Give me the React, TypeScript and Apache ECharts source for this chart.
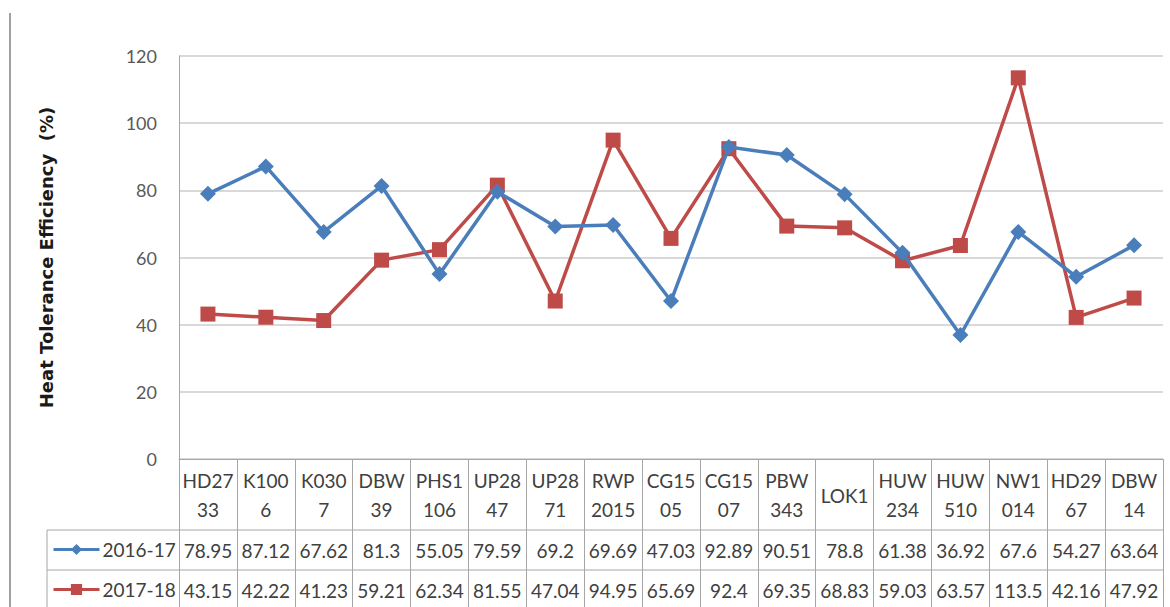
import React, { useEffect, useRef } from "react";
import * as echarts from "echarts";

const categories = [
  "HD27\n33", "K100\n6", "K030\n7", "DBW\n39", "PHS1\n106", "UP28\n47", "UP28\n71",
  "RWP\n2015", "CG15\n05", "CG15\n07", "PBW\n343", "LOK1", "HUW\n234", "HUW\n510",
  "NW1\n014", "HD29\n67", "DBW\n14",
];
const series2016 = [78.95, 87.12, 67.62, 81.3, 55.05, 79.59, 69.2, 69.69, 47.03, 92.89, 90.51, 78.8, 61.38, 36.92, 67.6, 54.27, 63.64];
const series2017 = [43.15, 42.22, 41.23, 59.21, 62.34, 81.55, 47.04, 94.95, 65.69, 92.4, 69.35, 68.83, 59.03, 63.57, 113.5, 42.16, 47.92];
const seriesNames = ["2016-17", "2017-18"];
const yTicks = { min: 0, max: 120, interval: 20 };
const yTitle = "Heat Tolerance Efficiency  (%)";

const BLUE = "#4A7EBB";
const RED = "#BE4B48";
const BORDER = "#A6A6A6";
const TXT = "#404040";
const FONT = "Lato";

export default function App() {
  const ref = useRef<HTMLDivElement>(null);
  useEffect(() => {
    if (!ref.current) return;
    const chart = echarts.init(ref.current, undefined, { renderer: "svg" });
    const rowY = [550, 590];
    const legendBase = {
      left: 52,
      itemWidth: 46,
      itemHeight: 14,
      selectedMode: false,
      padding: 0,
      lineStyle: { width: 3 },
      textStyle: { fontFamily: FONT, fontSize: 19, color: TXT, padding: [0, 0, 0, -2] },
    };
    const option: any = {
      animation: false,
      backgroundColor: "#ffffff",
      grid: { left: 179, right: 7, top: 56, bottom: 148, containLabel: false },
      legend: seriesNames.map((n, i) => ({ ...legendBase, top: rowY[i] - 10, data: [n] })),
      xAxis: {
        type: "category",
        data: categories,
        boundaryGap: true,
        axisLine: { show: true, lineStyle: { color: BORDER, width: 1 } },
        axisTick: { show: true, length: 148, lineStyle: { color: BORDER, width: 1 } },
        axisLabel: {
          interval: 0,
          margin: 36,
          verticalAlign: "middle",
          fontFamily: FONT,
          fontSize: 19,
          lineHeight: 29,
          color: TXT,
        },
        splitLine: { show: false },
      },
      yAxis: {
        type: "value",
        min: yTicks.min,
        max: yTicks.max,
        interval: yTicks.interval,
        name: yTitle,
        nameLocation: "middle",
        nameGap: 124,
        nameRotate: 90,
        nameTextStyle: { fontFamily: "DejaVu Sans", fontWeight: "bold", fontSize: 18, color: "#1a1a1a" },
        axisLine: { show: true, lineStyle: { color: BORDER, width: 1 } },
        axisTick: { show: false },
        axisLabel: { margin: 22, fontFamily: FONT, fontSize: 18, color: "#595959" },
        splitLine: { show: true, lineStyle: { color: "#D9D9D9", width: 2 } },
      },
      series: [
        {
          name: seriesNames[0],
          type: "line",
          data: series2016,
          symbol: "diamond",
          symbolSize: 16,
          itemStyle: { color: BLUE },
          lineStyle: { color: BLUE, width: 3.5 },
          z: 3,
        },
        {
          name: seriesNames[1],
          type: "line",
          data: series2017,
          symbol: "rect",
          symbolSize: 15,
          itemStyle: { color: RED },
          lineStyle: { color: RED, width: 3.5 },
          z: 2,
        },
      ],
    };
    chart.setOption(option);

    const rows = [series2016, series2017];
    const graphics: any[] = [];
    rows.forEach((vals, r) => {
      vals.forEach((v, i) => {
        const x = chart.convertToPixel({ xAxisIndex: 0 }, i) as number;
        graphics.push({
          type: "text",
          x,
          y: rowY[r],
          style: {
            text: String(v),
            fontFamily: FONT,
            fontSize: 19,
            fill: TXT,
            align: "center",
            verticalAlign: "middle",
          },
        });
      });
    });
    const x0 = chart.convertToPixel({ xAxisIndex: 0 }, 0) as number;
    const xn = chart.convertToPixel({ xAxisIndex: 0 }, categories.length - 1) as number;
    const band = (xn - x0) / (categories.length - 1);
    const right = xn + band / 2;
    [530, 570].forEach((y) => {
      graphics.push({
        type: "line",
        shape: { x1: 47, y1: y, x2: right, y2: y },
        style: { stroke: BORDER, lineWidth: 1 },
      });
    });
    graphics.push({
      type: "line",
      shape: { x1: 47, y1: 530, x2: 47, y2: 607 },
      style: { stroke: BORDER, lineWidth: 1 },
    });
    graphics.push({
      type: "line",
      shape: { x1: 10, y1: 13, x2: 10, y2: 607 },
      style: { stroke: "#A0A0A0", lineWidth: 2 },
    });
    chart.setOption({ graphic: graphics });

    return () => chart.dispose();
  }, []);
  return (
    <div
      ref={ref}
      style={{ position: "fixed", left: 0, top: 0, width: 1170, height: 607, background: "#fff" }}
    />
  );
}
